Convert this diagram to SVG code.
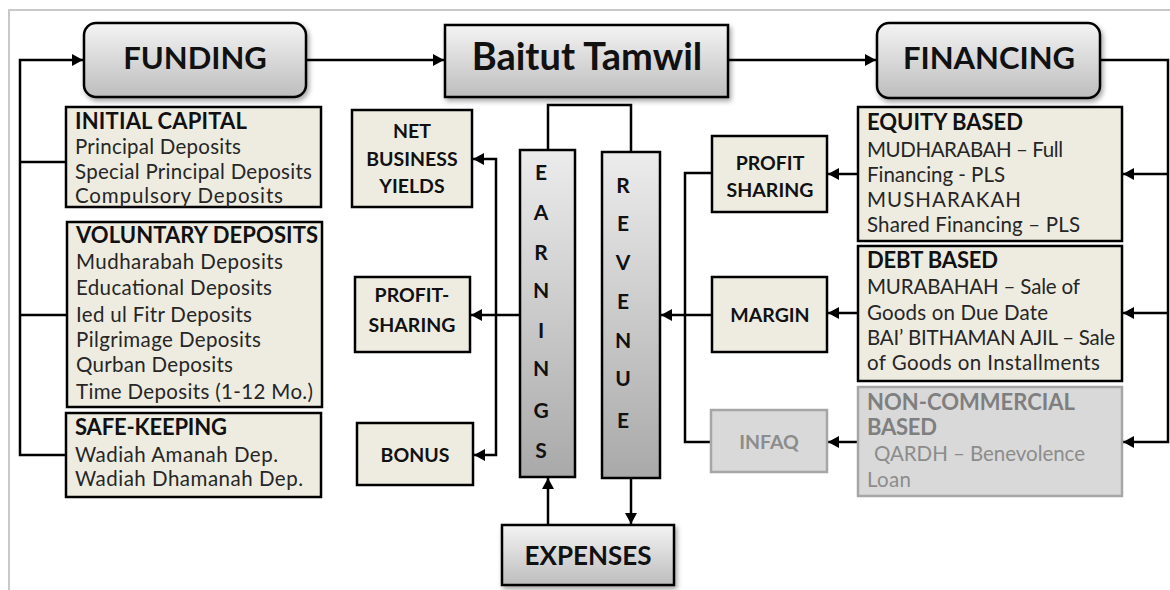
<svg xmlns="http://www.w3.org/2000/svg" width="1170" height="590" viewBox="0 0 1170 590">
  <defs>
    <linearGradient id="gHead" x1="0" y1="0" x2="0" y2="1">
      <stop offset="0" stop-color="#f4f4f4"/>
      <stop offset="1" stop-color="#bdbdbd"/>
    </linearGradient>
    <linearGradient id="gCol" x1="0" y1="0" x2="0" y2="1">
      <stop offset="0" stop-color="#ececec"/>
      <stop offset="1" stop-color="#a9a9a9"/>
    </linearGradient>
    <filter id="shadow" x="-10%" y="-10%" width="125%" height="135%">
      <feDropShadow dx="2" dy="3" stdDeviation="2.5" flood-color="#000" flood-opacity="0.35"/>
    </filter>
    <marker id="arrow" markerUnits="userSpaceOnUse" markerWidth="12" markerHeight="12" refX="11" refY="6" orient="auto">
      <path d="M0,0 L11,6 L0,12 z" fill="#000"/>
    </marker>
    <style>
      .head { fill: url(#gHead); stroke: #000; stroke-width: 2.5; filter: url(#shadow); }
      .col { fill: url(#gCol); stroke: #000; stroke-width: 2.5; }
      .box { fill: #eeece1; stroke: #000; stroke-width: 2.5; }
      .dim { fill: #d9d9d9; stroke: #a6a6a6; stroke-width: 2.5; }
      .conn { fill: none; stroke: #000; stroke-width: 2.5; }
      .arr { marker-end: url(#arrow); }
      text { font-family: Lato, "Liberation Sans", sans-serif; }
      .big { font-size: 31px; font-weight: bold; fill: #111; text-anchor: middle; }
      .h { font-size: 22px; font-weight: bold; fill: #111; }
      .t { font-size: 20.5px; fill: #262626; }
      .c { font-size: 19.5px; font-weight: bold; fill: #111; text-anchor: middle; }
      .v { font-size: 21px; font-weight: bold; fill: #111; text-anchor: middle; }
      .gh { font-size: 22px; font-weight: bold; fill: #7f7f7f; }
      .gt { font-size: 20.5px; fill: #8c8c8c; }
      .gc { font-size: 19.5px; font-weight: bold; fill: #8c8c8c; text-anchor: middle; }
    </style>
  </defs>

  <rect width="1170" height="590" fill="#fff"/>
  <!-- page frame -->
  <path d="M9,590 V10 H1170" fill="none" stroke="#c8c8c8" stroke-width="2"/>

  <!-- connectors -->
  <g id="connectors">
    <path class="conn arr" d="M66,455 H20 V60 H83"/>
    <path class="conn" d="M20,162 H66 M20,315 H67"/>
    <path class="conn arr" d="M306,60 H444"/>
    <path class="conn arr" d="M728,60 H876"/>
    <path class="conn arr" d="M1100,60 H1168 V442 H1123"/>
    <path class="conn arr" d="M1168,174 H1123"/>
    <path class="conn arr" d="M1168,313 H1123"/>
    <path class="conn arr" d="M858,174 H828"/>
    <path class="conn arr" d="M858,313 H828"/>
    <path class="conn arr" d="M858,442 H828"/>
    <path class="conn" d="M712,173 H685 V442 H711"/>
    <path class="conn arr" d="M712,315 H661"/>
    <path class="conn" d="M548,150 V105 H631 V152"/>
    <path class="conn arr" d="M631,478 V524"/>
    <path class="conn arr" d="M548,525 V478"/>
    <path class="conn arr" d="M520,315 H471"/>
    <path class="conn arr" d="M496,315 V159 H473"/>
    <path class="conn arr" d="M496,315 V455 H474"/>
  </g>

  <!-- top row -->
  <g id="funding">
    <rect class="head" x="84" y="23" width="222" height="74" rx="12"/>
    <text class="big" x="195" y="69">FUNDING</text>
  </g>
  <g id="baitut-tamwil">
    <rect class="head" x="445" y="25" width="283" height="72"/>
    <text class="big" x="587" y="70" style="font-size:38px">Baitut Tamwil</text>
  </g>
  <g id="financing">
    <rect class="head" x="877" y="23" width="223" height="75" rx="12"/>
    <text class="big" x="989" y="69">FINANCING</text>
  </g>

  <!-- funding sources -->
  <g id="initial-capital">
    <rect class="box" x="66" y="107" width="255" height="100"/>
    <text class="h" x="75" y="129" textLength="172">INITIAL CAPITAL</text>
    <text class="t" x="75" y="154" textLength="166">Principal Deposits</text>
    <text class="t" x="75" y="179" textLength="237">Special Principal Deposits</text>
    <text class="t" x="75" y="203" textLength="208">Compulsory Deposits</text>
  </g>
  <g id="voluntary-deposits">
    <rect class="box" x="67" y="222" width="255" height="185"/>
    <text class="h" x="76" y="243" textLength="242">VOLUNTARY DEPOSITS</text>
    <text class="t" x="76" y="269" textLength="207">Mudharabah Deposits</text>
    <text class="t" x="76" y="295" textLength="196">Educational Deposits</text>
    <text class="t" x="76" y="322" textLength="176">Ied ul Fitr Deposits</text>
    <text class="t" x="76" y="347" textLength="185">Pilgrimage Deposits</text>
    <text class="t" x="76" y="372" textLength="157">Qurban Deposits</text>
    <text class="t" x="76" y="399" textLength="237">Time Deposits (1-12 Mo.)</text>
  </g>
  <g id="safe-keeping">
    <rect class="box" x="66" y="413" width="255" height="84"/>
    <text class="h" x="75" y="435" textLength="152">SAFE-KEEPING</text>
    <text class="t" x="75" y="462" textLength="203">Wadiah Amanah Dep.</text>
    <text class="t" x="75" y="486" textLength="228">Wadiah Dhamanah Dep.</text>
  </g>

  <!-- returns to depositors -->
  <g id="net-business-yields">
    <rect class="box" x="352" y="110" width="120" height="97"/>
    <text class="c" x="412" y="138">NET</text>
    <text class="c" x="412" y="166">BUSINESS</text>
    <text class="c" x="412" y="193">YIELDS</text>
  </g>
  <g id="profit-sharing-out">
    <rect class="box" x="355" y="277" width="115" height="75"/>
    <text class="c" x="412" y="302">PROFIT-</text>
    <text class="c" x="412" y="332">SHARING</text>
  </g>
  <g id="bonus">
    <rect class="box" x="357" y="423" width="116" height="62"/>
    <text class="c" x="415" y="462">BONUS</text>
  </g>

  <!-- earnings / revenue columns -->
  <g id="earnings">
    <rect class="col" x="520" y="150" width="55" height="327"/>
    <text class="v" x="541" y="180">E</text>
    <text class="v" x="541" y="220">A</text>
    <text class="v" x="541" y="260">R</text>
    <text class="v" x="541" y="298">N</text>
    <text class="v" x="541" y="338">I</text>
    <text class="v" x="541" y="376">N</text>
    <text class="v" x="541" y="418">G</text>
    <text class="v" x="541" y="458">S</text>
  </g>
  <g id="revenue">
    <rect class="col" x="602" y="152" width="58" height="326"/>
    <text class="v" x="623" y="193">R</text>
    <text class="v" x="623" y="231">E</text>
    <text class="v" x="623" y="270">V</text>
    <text class="v" x="623" y="309">E</text>
    <text class="v" x="623" y="348">N</text>
    <text class="v" x="623" y="386">U</text>
    <text class="v" x="623" y="428">E</text>
  </g>
  <g id="expenses">
    <rect class="head" x="502" y="525" width="172" height="60"/>
    <text class="big" x="588" y="565" style="font-size:26px">EXPENSES</text>
  </g>

  <!-- income from financing -->
  <g id="profit-sharing-in">
    <rect class="box" x="712" y="136" width="115" height="76"/>
    <text class="c" x="770" y="170">PROFIT</text>
    <text class="c" x="770" y="197">SHARING</text>
  </g>
  <g id="margin">
    <rect class="box" x="712" y="277" width="115" height="75"/>
    <text class="c" x="770" y="322">MARGIN</text>
  </g>
  <g id="infaq">
    <rect class="dim" x="711" y="410" width="116" height="62"/>
    <text class="gc" x="769" y="449">INFAQ</text>
  </g>

  <!-- financing types -->
  <g id="equity-based">
    <rect class="box" x="858" y="107" width="264" height="134"/>
    <text class="h" x="867" y="130" textLength="156">EQUITY BASED</text>
    <text class="t" x="867" y="157" textLength="196">MUDHARABAH – Full</text>
    <text class="t" x="867" y="182" textLength="138">Financing - PLS</text>
    <text class="t" x="867" y="207" textLength="154">MUSHARAKAH</text>
    <text class="t" x="867" y="232" textLength="213">Shared Financing – PLS</text>
  </g>
  <g id="debt-based">
    <rect class="box" x="858" y="246" width="264" height="135"/>
    <text class="h" x="867" y="268" textLength="131">DEBT BASED</text>
    <text class="t" x="867" y="294" textLength="213">MURABAHAH – Sale of</text>
    <text class="t" x="867" y="320" textLength="181">Goods on Due Date</text>
    <text class="t" x="867" y="345" textLength="248">BAI’ BITHAMAN AJIL – Sale</text>
    <text class="t" x="867" y="370" textLength="233">of Goods on Installments</text>
  </g>
  <g id="non-commercial-based">
    <rect class="dim" x="858" y="387" width="264" height="109"/>
    <text class="gh" x="867" y="410" textLength="208">NON-COMMERCIAL</text>
    <text class="gh" x="867" y="435" textLength="70">BASED</text>
    <text class="gt" x="874" y="461" textLength="211">QARDH – Benevolence</text>
    <text class="gt" x="867" y="487" textLength="44">Loan</text>
  </g>
</svg>
